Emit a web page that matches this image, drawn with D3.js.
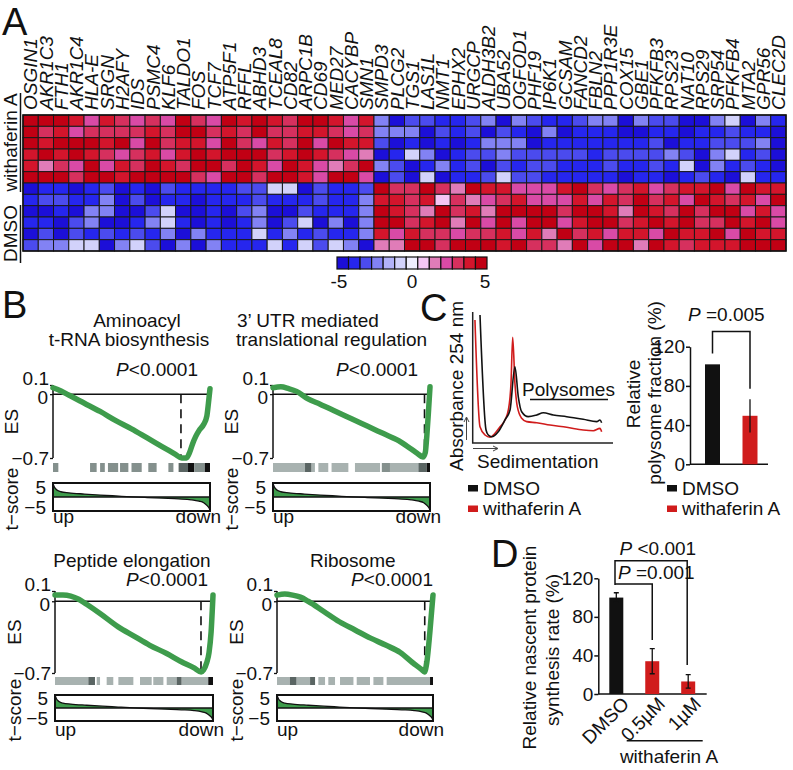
<!DOCTYPE html>
<html><head><meta charset="utf-8">
<script src="https://cdn.jsdelivr.net/npm/d3@7"></script>
<style>
body{margin:0;background:#fff}
svg{display:block}
text{font-family:"Liberation Sans",Arial,Helvetica,sans-serif;fill:#111}
</style>
</head><body>
<svg id="fig" width="793" height="770"></svg>
<script>
// ---------------- Panel A data ----------------
const genes = ["OSGIN1","AKR1C3","FTH1","AKR1C4","HLA-E","SRGN","H2AFY","IDS","PSMC4","KLF6","TALDO1","FOS","TCF7","ATP5F1","RFFL","ABHD3","TCEAL8","CD82","ARPC1B","CD69","MED27","CACYBP","SMN1","SMPD3","PLCG2","TGS1","LAS1L","NMT1","EPHX2","URGCP","ALDH3B2","UBA52","OGFOD1","PHF19","IP6K1","GCSAM","FANCD2","FBLN2","PPP1R3E","COX15","GBE1","PFKFB3","RPS23","NAT10","RPS29","SRP54","PFKFB4","MTA2","GPR56","CLEC2D"];
const groups = ["withaferin A","DMSO"];
const heatRows = [
 [5,5,5,4,2,4,3,2,3,2,5,3,2, 5,4,5,4,3,5,5,4,2,4, -2,-5, -3,-3,-4,-4,-3,-2,-5,-2,-3,-4,-4,-3,-2, -2,-5,-2,-3,-3,-5,-5,-2,-1,-5,-2,-4],
 [5,3,4,2,3,3,3,3,4,3,5,5,3, 4,3,5,3,3,4,4,3,2,3, -2,-2, -2,-5,-3,-4,-3,-5,-3,-4,-5,-2,-5,-4,-4, -4,-5,-5,-4,-4,-5,-4,-4,-3,-4,-4,-5],
 [5,4,5,5,5,4,5,2,5,3,4,4,2, 5,3,2,4,3,5,2,5,4,4, -3,-5, -4,-5,-4,-5,-4,-2,-2,-2,-5,-4,-4,-4,-4, -4,-4,-4,-3,-5,-4,-4,-3,-3,-3,-2,-5],
 [4,5,4,5,4,3,2,3,4,2,4,5,4, 5,5,5,3,4,5,4,3,2,1.5, -5,-4, -1,-2,-5,-4,-3,-3,-2,-3,-3,-3,-3,-3,-4, -3,-3,-3,-3,-2,-3,-5,-2,-1,-4,-3,-5],
 [4,1.5,3,2,5,2,4,3,5,4,3,5,5, 3,5,4,2,5,4,2,1.5,3,5, -2,-3, -5,-4,-2,-4,-3,-5,-3,-4,-3,-3,-4,-4,-4, -3,-4,-4,-3,-4,-1,-5,-2,-4,-3,-4,-5],
 [5,5,5,3,5,5,4,5,5,5,5,3,2, 5,5,3,5,5,4,2,5,5,2, -5,-3, -5,-1,-5,-4,-4,-3,-1,-3,-3,-4,-4,-4,-4, -4,-5,-4,-4,-5,-4,-3,-4,-5,-1,-4,-4],
 [-5,-4,-4,-5,-4,-3,-5,-4,-5,-3,-4,-4,-4, -4,-3,-3,-1,-1,-5,-3,-4,-4,-3, 5,3, 3,5,3,1.5,5,4,4,2,2,2,4,5,3, 2,3,4,2,3,4,4,5,2,5,4,4],
 [-4,-3,-3,-4,-4,-2,-5,-3,-5,-4,-4,-5,-4, -4,-4,-3,-4,-4,-4,-3,-4,-4,-2, 4,4, 3,4,0.5,3,1.5,2,3,4,2,2,2,4,2, 4,3,5,3,4,2,5,4,3,4,2,5],
 [-5,-5,-4,-5,-2,-2,-5,-5,-3,-1,-5,-5,-4, -5,-3,-2,-5,-5,-3,-4,-4,-4,-2, 5,4, 3,1.5,5,3,4,1.5,5,5,5,5,3,5,5, 4,1.5,5,4,3,5,3,5,5,2,4,2],
 [-4,-4,-5,-3,-2,-5,-5,-4,-2,-1,-4,-5,-4, -5,-4,-2,-5,-3,-1,-5,-2,-5,-2, 5,5, 3,4,5,1.5,5,2,5,2,5,5,2,4,5, 5,3,4,5,4,5,3,3,5,4,5,2],
 [-5,-3,-5,-3,-4,-3,-4,-3,-4,-2,-5,-2,-4, -4,-4,-1,-4,-2,-4,-3,-4,-4,-2, 4,2, 4,3,3,2,3,3,4,2,4,1.5,5,3,4, 2,4,4,2,5,4,4,5,2,5,4,4],
 [-3,-2,-2,-1,-1,-5,-2,-1,-3,-5,-2,-5,-2, -4,-4,-4,-1,-4,-1,-3,-1,-2,-5, 1.5,1.5, 5,5,3,5,5,5,4,5,3,3,1.5,5,2, 5,5,1.5,5,4,3,4,4,4,5,5,5]
];
const legendColors = ["#1c0fd8","#2626ee","#4b4bee","#8282f4","#b2b2f8","#d2d2fb","#eeedfd","#f4c6f4","#e07cb8","#d94aa6","#d6305e","#d3152c","#c10014"];
const legendTicks = [-5,0,5];

// ---------------- Panel B data ----------------
const esTicks = [0.1, 0, -0.7];
const tTicks = [5, -5];
const esAminoacyl = [[0,0.07],[0.03,0.05],[0.1,-0.01],[0.2,-0.1],[0.3,-0.19],[0.4,-0.29],[0.5,-0.38],[0.6,-0.48],[0.7,-0.58],[0.78,-0.66],[0.82,-0.70],[0.85,-0.70],[0.87,-0.64],[0.89,-0.54],[0.91,-0.46],[0.93,-0.4],[0.96,-0.33],[0.98,-0.24],[0.99,-0.1],[1,0.06]];
const esUTR = [[0,0.07],[0.05,0.08],[0.1,0.06],[0.15,0.03],[0.22,-0.05],[0.3,-0.11],[0.4,-0.19],[0.5,-0.27],[0.6,-0.35],[0.7,-0.43],[0.8,-0.51],[0.87,-0.59],[0.92,-0.65],[0.955,-0.69],[0.97,-0.64],[0.98,-0.45],[0.99,-0.2],[1,0.08]];
const esPeptide = [[0,0.06],[0.05,0.06],[0.1,0.05],[0.15,0.02],[0.2,-0.03],[0.285,-0.12],[0.4,-0.25],[0.5,-0.34],[0.6,-0.43],[0.707,-0.51],[0.8,-0.59],[0.88,-0.65],[0.925,-0.69],[0.94,-0.67],[0.96,-0.6],[0.975,-0.5],[0.988,-0.3],[1,0.06]];
const esRibosome = [[0,0.06],[0.05,0.07],[0.1,0.06],[0.15,0.04],[0.2,0.0],[0.3,-0.1],[0.4,-0.2],[0.5,-0.28],[0.6,-0.36],[0.7,-0.43],[0.79,-0.5],[0.87,-0.6],[0.93,-0.67],[0.945,-0.69],[0.96,-0.6],[0.98,-0.3],[1,0.06]];
// hit segments: [start, end, shade 0=light 1=mid 2=dark 3=black]
const hitsAminoacyl = [[0,0.034,1],[0.236,0.278,1],[0.30,0.33,1],[0.35,0.415,1],[0.427,0.48,1],[0.50,0.565,1],[0.607,0.66,1],[0.735,0.767,1],[0.80,0.86,2],[0.86,0.90,3],[0.90,0.967,1],[0.967,1,3]];
const hitsUTR = [[0,0.204,0],[0.204,0.246,2],[0.246,0.267,0],[0.289,0.352,0],[0.373,0.48,0],[0.522,0.682,0],[0.693,0.745,1],[0.745,0.926,0],[0.926,0.979,2],[0.979,1,3]];
const hitsPeptide = [[0,0.211,0],[0.211,0.253,2],[0.264,0.285,0],[0.327,0.369,0],[0.401,0.496,0],[0.538,0.612,0],[0.622,0.686,0],[0.707,0.77,0],[0.77,0.802,2],[0.802,0.97,0],[0.97,1,3]];
const hitsRibosome = [[0,0.083,0],[0.083,0.126,2],[0.126,0.212,0],[0.212,0.244,2],[0.265,0.308,0],[0.329,0.372,0],[0.404,0.49,0],[0.511,0.596,0],[0.618,0.682,0],[0.703,0.981,0],[0.981,1,3]];
const tScoreCurve = [[0,7.8],[0.01,5.5],[0.025,4],[0.05,3],[0.1,2.4],[0.2,1.7],[0.3,1.1],[0.4,0.6],[0.5,0.1],[0.6,-0.3],[0.7,-0.7],[0.8,-1.1],[0.88,-1.6],[0.93,-2.4],[0.96,-3.3],[0.98,-4.8],[0.995,-6.5],[1,-7.8]];

// ---------------- Panel C data ----------------
const profileDMSO = [[5.2,97.7],[9.5,9.9],[11.1,6.1],[13.5,4.8],[18.2,8.6],[23.0,17.6],[26.6,25.2],[30.1,58.2],[32.5,35.3],[34.9,23.9],[39.6,20.1],[45.6,21.4],[50.3,23.1],[57.4,21.4],[67.0,20.1],[78.8,18.1],[88.4,16.3],[90.7,17.6],[91.9,15.5]];
const profileWA = [[1.6,93.9],[5.2,12.4],[8.8,6.1],[12.3,4.4],[15.9,7.4],[19.5,12.4],[23.0,17.6],[25.4,25.2],[27.3,45.6],[28.5,80.7],[30.1,45.6],[31.8,27.7],[34.9,18.9],[38.5,16.3],[45.6,15.5],[55.1,13.7],[67.0,12.0],[78.8,9.9],[86.0,9.4],[90.7,11.2],[91.9,8.6]];
const polyGroups = ["DMSO","withaferin A"];
const polyValues = [102, 49.5];
const polyErrors = [0, 17];
const polyTicks = [0, 40, 80, 120];

// ---------------- Panel D data ----------------
const nascentGroups = ["DMSO","0.5µM","1µM"];
const nascentValues = [100, 34, 13];
const nascentErrors = [5, 13, 7];
const nascentTicks = [0, 40, 80, 120];

const seriesColors = {DMSO:"#111111", WA:"#d01c1c"};
const green = "#3e9c4c";

// ================= drawing =================
const svg = d3.select("#fig");
const FS = 19;
const minus = v => (v < 0 ? "\u2212" + Math.abs(v) : String(v));

function panelLetter(t, x, y){
  svg.append("text").attr("x",x).attr("y",y).attr("font-size",38).text(t);
}
panelLetter("A",2,35); panelLetter("B",2,318); panelLetter("C",420,321); panelLetter("D",491,567);

// ---- Heatmap ----
const hx = d3.scaleBand().domain(genes).range([23,786]);
const hy = d3.scaleBand().domain(d3.range(heatRows.length)).range([115,251]);
const heatColor = d3.scaleQuantize().domain([-5,5]).range(legendColors);
const gH = svg.append("g");
heatRows.forEach((row,ri)=>{
  gH.selectAll(null).data(row).enter().append("rect")
    .attr("x",(d,i)=>hx(genes[i])).attr("y",hy(ri))
    .attr("width",hx.bandwidth()).attr("height",hy.bandwidth())
    .attr("fill",d=>heatColor(d)).attr("stroke","#1a1a1a").attr("stroke-width",1);
});
gH.append("rect").attr("x",23).attr("y",115).attr("width",763).attr("height",136)
  .attr("fill","none").attr("stroke","#111").attr("stroke-width",1.5);
svg.append("g").selectAll("text").data(genes).enter().append("text")
  .attr("transform",g=>`translate(${hx(g)+hx.bandwidth()/2+6.8},110) rotate(-90)`)
  .attr("font-size",FS).attr("font-style","italic").text(g=>g);
// group labels
const grpPos = [{t:groups[0],c:142.5,a:93,b:192},{t:groups[1],c:233.5,a:205,b:263}];
grpPos.forEach(p=>{
  svg.append("text").attr("transform",`translate(16.5,${p.c}) rotate(-90)`)
    .attr("text-anchor","middle").attr("font-size",FS).text(p.t);
  svg.append("line").attr("x1",20.5).attr("x2",20.5).attr("y1",p.a).attr("y2",p.b)
    .attr("stroke","#111").attr("stroke-width",1.5);
});
// colour legend
const lx = d3.scaleBand().domain(d3.range(legendColors.length)).range([337,487]);
svg.append("g").selectAll("rect").data(legendColors).enter().append("rect")
  .attr("x",(d,i)=>lx(i)).attr("y",257).attr("width",lx.bandwidth()).attr("height",12)
  .attr("fill",d=>d).attr("stroke","#111").attr("stroke-width",1.2);
const lt = d3.scaleLinear().domain([-5,5]).range([339,485]);
svg.append("g").selectAll("text").data(legendTicks).enter().append("text")
  .attr("x",d=>lt(d)).attr("y",288).attr("text-anchor","middle").attr("font-size",FS)
  .text(d=>d<0?"-"+Math.abs(d):d);

// ---- GSEA plots ----
const hitFill = ["#a8b2b0","#84908d","#5a6563","#111111"];
const gseaCfg = [
 {x0:53,x1:210,esTop:385,esBot:458,hitY:463,hitH:9,tTop:483,tBot:511,upY:523,labX:18,es:esAminoacyl,hits:hitsAminoacyl,dash:0.815,
  titles:[["Aminoacyl",137,327,"middle"],["t-RNA biosynthesis",129,346,"middle"]],p:[198,376]},
 {x0:273,x1:430,esTop:385,esBot:458,hitY:463,hitH:9,tTop:483,tBot:511,upY:523,labX:238,es:esUTR,hits:hitsUTR,dash:0.965,
  titles:[["3\u2019 UTR mediated",237,327,"start"],["translational regulation",236,346,"start"]],p:[418,376]},
 {x0:55,x1:213,esTop:591,esBot:673,hitY:677,hitH:8,tTop:695,tBot:721,upY:736,labX:21,es:esPeptide,hits:hitsPeptide,dash:0.924,
  titles:[["Peptide elongation",132,567,"middle"]],p:[208,586]},
 {x0:277,x1:433,esTop:591,esBot:673,hitY:677,hitH:8,tTop:695,tBot:721,upY:736,labX:243,es:esRibosome,hits:hitsRibosome,dash:0.947,
  titles:[["Ribosome",310,567,"start"]],p:[433,586]}
];
gseaCfg.forEach((c,k)=>{
  const g = svg.append("g");
  const x = d3.scaleLinear().domain([0,1]).range([c.x0,c.x1]);
  const y = d3.scaleLinear().domain([-0.7,0.1]).range([c.esBot,c.esTop]);
  const ty = d3.scaleLinear().domain([-8,8]).range([c.tBot,c.tTop]);
  c.titles.forEach(t=>g.append("text").attr("x",t[1]).attr("y",t[2]).attr("text-anchor",t[3]).attr("font-size",FS).text(t[0]));
  const pt = g.append("text").attr("x",c.p[0]).attr("y",c.p[1]).attr("text-anchor","end").attr("font-size",FS);
  pt.append("tspan").attr("font-style","italic").text("P");
  pt.append("tspan").text("<0.0001");
  // ES axis
  const ax = g.append("g").attr("transform",`translate(${c.x0},0)`)
    .call(d3.axisLeft(y).tickValues(esTicks).tickSize(3).tickPadding(1).tickFormat(minus));
  ax.select(".domain").remove();
  ax.selectAll("text").attr("font-size",FS).attr("font-family","'Liberation Sans',Arial,sans-serif").attr("fill","#111")
    .attr("transform",d=>d===0.1?"translate(0,-7)":(d===0?"translate(-1,3)":null));
  ax.selectAll("line").attr("stroke","#111").attr("stroke-width",1.3);
  g.append("line").attr("x1",c.x0).attr("x2",c.x0).attr("y1",y(0.1)).attr("y2",y(-0.7)).attr("stroke","#111").attr("stroke-width",1.5);
  g.append("line").attr("x1",c.x0).attr("x2",c.x1).attr("y1",y(0)).attr("y2",y(0)).attr("stroke","#111").attr("stroke-width",1.5);
  g.append("line").attr("x1",x(c.dash)).attr("x2",x(c.dash)).attr("y1",y(0)).attr("y2",y(-0.7))
    .attr("stroke","#111").attr("stroke-width",1.6).attr("stroke-dasharray","9,6");
  g.append("path").datum(c.es).attr("fill","none").attr("stroke",green).attr("stroke-width",5.5)
    .attr("stroke-linejoin","round").attr("stroke-linecap","round")
    .attr("d",d3.line().x(d=>x(d[0])).y(d=>y(d[1])).curve(d3.curveMonotoneX));
  g.append("text").attr("transform",`translate(${c.labX},${(c.esTop+c.esBot)/2}) rotate(-90)`)
    .attr("text-anchor","middle").attr("font-size",FS).text("ES");
  // hits
  g.append("g").selectAll("rect").data(c.hits).enter().append("rect")
    .attr("x",d=>x(d[0])).attr("width",d=>x(d[1])-x(d[0])).attr("y",c.hitY).attr("height",c.hitH)
    .attr("fill",d=>hitFill[d[2]]);
  // t-score
  const cid = "clipT"+k;
  g.append("clipPath").attr("id",cid).append("rect").attr("x",c.x0).attr("y",c.tTop).attr("width",c.x1-c.x0).attr("height",c.tBot-c.tTop);
  const inner = g.append("g").attr("clip-path",`url(#${cid})`);
  inner.append("path").datum(tScoreCurve).attr("fill",green)
    .attr("d",d3.area().x(d=>x(d[0])).y0(ty(0)).y1(d=>ty(d[1])).curve(d3.curveMonotoneX));
  inner.append("path").datum(tScoreCurve).attr("fill","none").attr("stroke","#111").attr("stroke-width",1.3)
    .attr("d",d3.line().x(d=>x(d[0])).y(d=>ty(d[1])).curve(d3.curveMonotoneX));
  g.append("line").attr("x1",c.x0).attr("x2",c.x1).attr("y1",ty(0)).attr("y2",ty(0)).attr("stroke","#111").attr("stroke-width",1.6);
  g.append("rect").attr("x",c.x0).attr("y",c.tTop).attr("width",c.x1-c.x0).attr("height",c.tBot-c.tTop)
    .attr("fill","none").attr("stroke","#111").attr("stroke-width",2);
  const tax = g.append("g").attr("transform",`translate(${c.x0},0)`)
    .call(d3.axisLeft(ty).tickValues(tTicks).tickSize(0).tickPadding(7).tickFormat(minus));
  tax.select(".domain").remove();
  tax.selectAll("text").attr("font-size",FS).attr("font-family","'Liberation Sans',Arial,sans-serif").attr("fill","#111")
    .attr("transform",d=>d>0?"translate(0,-1)":"translate(0,2)");
  g.append("text").attr("transform",`translate(${c.labX},${(c.tTop+c.tBot)/2+2}) rotate(-90)`)
    .attr("text-anchor","middle").attr("font-size",FS).text("t\u2212score");
  g.append("text").attr("x",c.x0).attr("y",c.upY).attr("font-size",FS).text("up");
  g.append("text").attr("x",c.x1+11).attr("y",c.upY).attr("text-anchor","end").attr("font-size",FS).text("down");
});

// ---- Panel C: polysome profile ----
const gC = svg.append("g");
const px = d3.scaleLinear().domain([0,100]).range([472.7,613]);
const py = d3.scaleLinear().domain([0,100]).range([443,312]);
gC.append("path").attr("d",`M${px(0)},${py(100)}V${py(0)}H${px(100)}`).attr("fill","none").attr("stroke","#222").attr("stroke-width",1.5);
const pline = d3.line().x(d=>px(d[0])).y(d=>py(d[1])).curve(d3.curveMonotoneX);
gC.append("path").datum(profileWA).attr("d",pline).attr("fill","none").attr("stroke",seriesColors.WA).attr("stroke-width",1.6);
gC.append("path").datum(profileDMSO).attr("d",pline).attr("fill","none").attr("stroke",seriesColors.DMSO).attr("stroke-width",1.6);
// small arrows
gC.append("path").attr("d","M466.5,440V418M464,422L466.5,417L469,422").attr("fill","none").attr("stroke","#444").attr("stroke-width",1);
gC.append("path").attr("d","M473,448.5H497M493,446L498,448.5L493,451").attr("fill","none").attr("stroke","#444").attr("stroke-width",1);
gC.append("text").attr("x",477).attr("y",468).attr("font-size",FS).text("Sedimentation");
gC.append("text").attr("transform","translate(463,386) rotate(-90)").attr("text-anchor","middle").attr("font-size",FS).text("Absorbance 254 nm");
gC.append("text").attr("x",522).attr("y",396).attr("font-size",FS).text("Polysomes");
gC.append("line").attr("x1",530).attr("x2",608).attr("y1",399.5).attr("y2",399.5).attr("stroke","#111").attr("stroke-width",1.5);
function legend(x, y){
  const items = [["DMSO",seriesColors.DMSO],["withaferin A",seriesColors.WA]];
  items.forEach((it,i)=>{
    svg.append("rect").attr("x",x).attr("y",y+i*20.5).attr("width",10).attr("height",6.5).attr("fill",it[1]);
    svg.append("text").attr("x",x+15).attr("y",y+i*20.5+9.5).attr("font-size",FS).text(it[0]);
  });
}
legend(468,485);
legend(667,485);

// ---- Panel C: bar chart ----
const gB = svg.append("g");
const cy = d3.scaleLinear().domain([0,120]).range([464.3,346.7]);
const cx = d3.scalePoint().domain(polyGroups).range([712.5,750]);
const cyAx = gB.append("g").attr("transform","translate(690,0)").call(d3.axisLeft(cy).tickValues(polyTicks).tickSize(4).tickPadding(1).tickSizeOuter(0));
cyAx.selectAll("text").attr("font-size",FS).attr("font-family","'Liberation Sans',Arial,sans-serif").attr("fill","#111");
cyAx.selectAll("line,path").attr("stroke","#111").attr("stroke-width",1.5);
gB.append("line").attr("x1",690).attr("x2",768).attr("y1",cy(0)).attr("y2",cy(0)).attr("stroke","#111").attr("stroke-width",1.5);
gB.selectAll("rect.bar").data(polyGroups).enter().append("rect")
  .attr("x",g=>cx(g)-7.5).attr("width",15).attr("y",(g,i)=>cy(polyValues[i])).attr("height",(g,i)=>cy(0)-cy(polyValues[i]))
  .attr("fill",(g,i)=>i===0?seriesColors.DMSO:seriesColors.WA);
polyGroups.forEach((g,i)=>{ if(polyErrors[i]>0){
  gB.append("line").attr("x1",cx(g)).attr("x2",cx(g)).attr("y1",cy(polyValues[i]+polyErrors[i])).attr("y2",cy(polyValues[i]-polyErrors[i])).attr("stroke","#111").attr("stroke-width",1.3);
}});
gB.append("path").attr("d",`M${cx(polyGroups[0])},${cy(113)}V331.5H${cx(polyGroups[1])}V${cy(77)}`).attr("fill","none").attr("stroke","#111").attr("stroke-width",1.5);
const cp = gB.append("text").attr("x",688).attr("y",321).attr("font-size",FS);
cp.append("tspan").attr("font-style","italic").text("P");
cp.append("tspan").text(" =0.005");
gB.append("text").attr("transform","translate(640,394) rotate(-90)").attr("text-anchor","middle").attr("font-size",FS).text("Relative");
gB.append("text").attr("transform","translate(660.5,393) rotate(-90)").attr("text-anchor","middle").attr("font-size",FS).text("polysome fraction (%)");

// ---- Panel D ----
const gD = svg.append("g");
const dy = d3.scaleLinear().domain([0,120]).range([694,578.3]);
const dx = d3.scalePoint().domain(nascentGroups).range([616.3,688.2]);
const dAx = gD.append("g").attr("transform","translate(598.3,0)").call(d3.axisLeft(dy).tickValues(nascentTicks).tickSize(4).tickPadding(1).tickSizeOuter(0));
dAx.selectAll("text").attr("font-size",FS).attr("font-family","'Liberation Sans',Arial,sans-serif").attr("fill","#111");
dAx.selectAll("line,path").attr("stroke","#111").attr("stroke-width",1.5);
gD.append("line").attr("x1",598.3).attr("x2",706.7).attr("y1",dy(0)).attr("y2",dy(0)).attr("stroke","#111").attr("stroke-width",1.5);
gD.selectAll("rect.bar").data(nascentGroups).enter().append("rect")
  .attr("x",g=>dx(g)-7).attr("width",14).attr("y",(g,i)=>dy(nascentValues[i])).attr("height",(g,i)=>dy(0)-dy(nascentValues[i]))
  .attr("fill",(g,i)=>i===0?seriesColors.DMSO:seriesColors.WA);
nascentGroups.forEach((g,i)=>{
  const a = dy(nascentValues[i]+nascentErrors[i]), b = dy(nascentValues[i]-nascentErrors[i]);
  gD.append("path").attr("d",`M${dx(g)},${a}V${b}M${dx(g)-2.5},${a}H${dx(g)+2.5}M${dx(g)-2.5},${b}H${dx(g)+2.5}`)
    .attr("fill","none").attr("stroke","#111").attr("stroke-width",1.3);
});
gD.append("path").attr("d",`M615,585V560.7H${dx(nascentGroups[2])-1}V${dy(30)}`).attr("fill","none").attr("stroke","#111").attr("stroke-width",1.5);
gD.append("path").attr("d",`M615,584H${dx(nascentGroups[1])}V${dy(56)}`).attr("fill","none").attr("stroke","#111").attr("stroke-width",1.5);
const dp1 = gD.append("text").attr("x",619.5).attr("y",555).attr("font-size",FS);
dp1.append("tspan").attr("font-style","italic").text("P");
dp1.append("tspan").text(" <0.001");
const dp2 = gD.append("text").attr("x",618).attr("y",578.5).attr("font-size",FS);
dp2.append("tspan").attr("font-style","italic").text("P");
dp2.append("tspan").text(" =0.001");
gD.selectAll("text.xl").data(nascentGroups).enter().append("text")
  .attr("transform",g=>`translate(${dx(g)+14},705) rotate(-45)`).attr("text-anchor","end").attr("font-size",FS).text(g=>g);
gD.append("line").attr("x1",626.7).attr("x2",702.7).attr("y1",740.7).attr("y2",740.7).attr("stroke","#111").attr("stroke-width",1.5);
gD.append("text").attr("x",669).attr("y",763).attr("text-anchor","middle").attr("font-size",FS).text("withaferin A");
gD.append("text").attr("transform","translate(536,647.5) rotate(-90)").attr("text-anchor","middle").attr("font-size",FS).text("Relative nascent protein");
gD.append("text").attr("transform","translate(558.5,650) rotate(-90)").attr("text-anchor","middle").attr("font-size",FS).text("synthesis rate (%)");
</script>
</body></html>
